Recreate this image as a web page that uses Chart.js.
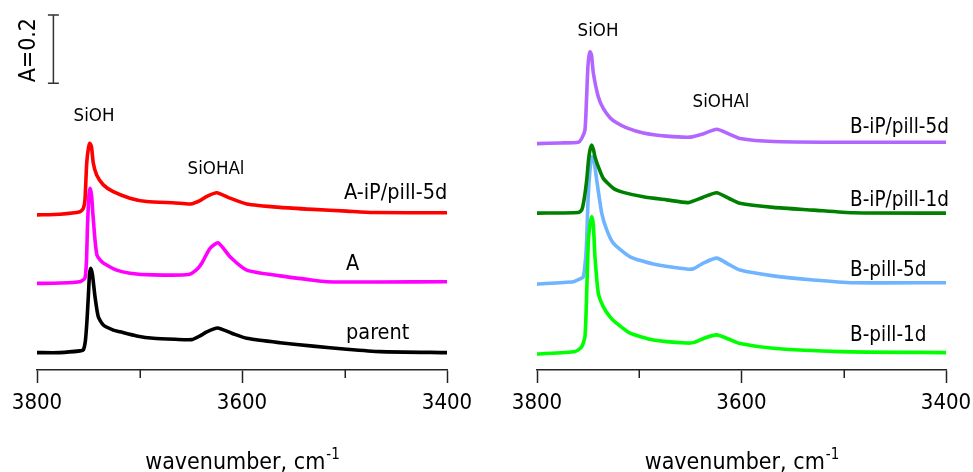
<!DOCTYPE html>
<html><head><meta charset="utf-8">
<script src="https://cdn.jsdelivr.net/npm/chart.js@4.4.1/dist/chart.umd.min.js"></script>
<style>
html,body{margin:0;padding:0;background:#fff;}
#wrap{position:relative;width:973px;height:472px;overflow:hidden;background:#fff;}
canvas{position:absolute;top:0;}
</style></head><body>
<div id="wrap">
<canvas id="leftChart" width="500" height="472" style="left:0px"></canvas>
<canvas id="rightChart" width="473" height="472" style="left:500px"></canvas>
</div>
<script>
// ---------- DATA (wavenumber in cm-1, absorbance incl. vertical offset) ----------
const xTickLabels = [3800, 3600, 3400];
const xMinorTicks = [3700, 3500];
const xAxisTitle = 'wavenumber, cm';
const xAxisTitleSup = '-1';
const peakLabels = ['SiOH', 'SiOHAl'];
const scaleBarText = 'A=0.2';
const scaleBarSize = 0.2;

// Left panel
const leftNames = ['A-iP/pill-5d', 'A', 'parent'];
const wn_AiP5d = [3800,3777.6,3758.0,3754.8,3753.2,3751.5,3749.8,3748.3,3746.8,3745.1,3741.8,3735.3,3725.6,3709.3,3693.0,3665.0,3650.0,3641.0,3634.4,3624.7,3611.7,3595.4,3562.9,3530.7,3497.9,3472.2,3400];
const abs_AiP5d = [0.455,0.457,0.464,0.474,0.499,0.607,0.651,0.665,0.654,0.607,0.572,0.543,0.523,0.504,0.494,0.490,0.487,0.497,0.509,0.520,0.504,0.487,0.477,0.471,0.466,0.462,0.461];

const wn_A = [3800,3777.6,3758.0,3753.2,3751.7,3750.7,3749.3,3748.3,3746.8,3745.4,3743.4,3741.5,3738.5,3735.3,3722.2,3709.3,3686.8,3652.0,3644.0,3639.3,3631.2,3623.1,3611.7,3595.4,3562.9,3535.0,3517.4,3465.4,3400];
const abs_A = [0.254,0.255,0.259,0.270,0.323,0.425,0.513,0.533,0.513,0.455,0.381,0.337,0.323,0.314,0.293,0.284,0.279,0.280,0.295,0.313,0.357,0.373,0.332,0.293,0.276,0.265,0.259,0.258,0.259];

const wn_parent = [3800,3777.6,3758.0,3754.8,3752.7,3751.2,3749.9,3748.8,3747.6,3745.9,3743.4,3740.2,3735.3,3725.6,3719.0,3702.7,3686.5,3665.0,3649.0,3641.0,3634.4,3623.9,3610.0,3595.4,3562.9,3530.7,3497.9,3465.4,3400];
const abs_parent = [0.051,0.051,0.056,0.059,0.088,0.147,0.217,0.279,0.298,0.279,0.215,0.156,0.132,0.117,0.112,0.100,0.093,0.090,0.089,0.100,0.112,0.123,0.108,0.093,0.080,0.070,0.061,0.054,0.051];

// Right panel
const rightNames = ['B-iP/pill-5d', 'B-iP/pill-1d', 'B-pill-5d', 'B-pill-1d'];
const wn_BiP5d = [3800,3777.5,3759.6,3756.3,3753.1,3751.6,3750.1,3748.2,3746.7,3744.9,3740.0,3735.2,3728.6,3722.1,3712.3,3696.0,3673.2,3650.0,3637.0,3624.3,3612.0,3601.5,3568.9,3510.2,3400];
const abs_BiP5d = [0.664,0.666,0.668,0.679,0.704,0.792,0.894,0.933,0.924,0.871,0.801,0.767,0.740,0.725,0.710,0.695,0.686,0.683,0.693,0.706,0.692,0.679,0.670,0.668,0.668];

const wn_BiP1d = [3800,3759.6,3756.3,3754.0,3751.4,3749.6,3748.2,3746.5,3744.7,3743.3,3740.0,3735.2,3725.4,3715.6,3696.0,3673.2,3652.0,3638.0,3624.3,3612.0,3601.5,3568.9,3529.8,3490.7,3400];
const abs_BiP1d = [0.460,0.462,0.469,0.499,0.557,0.616,0.645,0.660,0.645,0.625,0.596,0.562,0.533,0.521,0.508,0.499,0.491,0.506,0.520,0.503,0.489,0.477,0.469,0.461,0.460];

const wn_Bpill5d = [3800,3764.5,3758.0,3754.7,3752.6,3751.4,3750.1,3748.2,3746.5,3744.7,3741.6,3736.7,3731.8,3725.4,3709.0,3686.3,3653.6,3647.0,3637.0,3624.3,3612.0,3601.5,3568.9,3529.8,3490.7,3400];
const abs_Bpill5d = [0.252,0.259,0.267,0.273,0.323,0.381,0.499,0.587,0.625,0.622,0.557,0.460,0.411,0.372,0.332,0.311,0.296,0.297,0.314,0.328,0.309,0.293,0.276,0.264,0.256,0.256];

const wn_Bpill1d = [3800,3762.8,3756.3,3753.1,3751.6,3749.9,3748.2,3746.5,3744.9,3743.3,3740.0,3735.2,3728.6,3722.1,3709.0,3686.3,3653.6,3646.0,3636.0,3624.3,3612.0,3601.5,3568.9,3503.8,3400];
const abs_Bpill1d = [0.047,0.054,0.068,0.098,0.205,0.372,0.425,0.450,0.425,0.332,0.225,0.186,0.156,0.137,0.108,0.088,0.079,0.081,0.094,0.103,0.090,0.078,0.064,0.054,0.051];

// ---------- helpers ----------
const FONT = "'DejaVu Sans Condensed', 'DejaVu Sans', sans-serif";
function pts(wn, ab){ return wn.map((w,i)=>({x:w, y:ab[i]})); }
function ds(label, wn, ab, color){
  return {label, data: pts(wn, ab), borderColor: color, backgroundColor: color,
    borderWidth: 3.6, pointRadius: 0, fill: false, tension: 0.2,
    borderCapStyle: 'round', borderJoinStyle: 'round'};
}

function annotPlugin(cfg){
  return {
    id: 'annot',
    afterDraw(chart){
      const ctx = chart.ctx, xs = chart.scales.x, area = chart.chartArea;
      ctx.save();
      ctx.strokeStyle = '#222'; ctx.lineWidth = 1.5;
      xMinorTicks.forEach(v=>{
        const px = Math.round(xs.getPixelForValue(v)) + 0.25;
        ctx.beginPath(); ctx.moveTo(px, area.bottom); ctx.lineTo(px, area.bottom + 8); ctx.stroke();
      });
      ctx.fillStyle = '#000';
      ctx.textBaseline = 'alphabetic';
      cfg.labels.forEach(l=>{
        ctx.font = l.size + 'px ' + FONT;
        ctx.textAlign = l.align;
        ctx.fillText(l.text, l.x, l.y);
      });
      const cx = (area.left + area.right)/2;
      ctx.font = '23px ' + FONT;
      const w1 = ctx.measureText(xAxisTitle).width;
      ctx.font = '15px ' + FONT;
      const w2 = ctx.measureText(xAxisTitleSup).width;
      const sx = cx - (w1 + w2)/2;
      ctx.textAlign = 'left';
      ctx.font = '23px ' + FONT;
      ctx.fillText(xAxisTitle, sx, 469);
      ctx.font = '15px ' + FONT;
      ctx.fillText(xAxisTitleSup, sx + w1 + 1, 459);
      if (cfg.scaleBar){
        const ys = chart.scales.y;
        const bx = xs.getPixelForValue(cfg.scaleBar.wn);
        const yb = ys.getPixelForValue(cfg.scaleBar.base);
        const yt = ys.getPixelForValue(cfg.scaleBar.base + scaleBarSize);
        ctx.strokeStyle = '#333'; ctx.lineWidth = 1.5;
        ctx.beginPath();
        ctx.moveTo(bx, yb); ctx.lineTo(bx, yt);
        ctx.moveTo(bx-5.5, yb); ctx.lineTo(bx+5.5, yb);
        ctx.moveTo(bx-5.5, yt); ctx.lineTo(bx+5.5, yt);
        ctx.stroke();
        ctx.save();
        ctx.translate(35, (yb+yt)/2 + 1);
        ctx.rotate(-Math.PI/2);
        ctx.font = '23px ' + FONT;
        ctx.textAlign = 'center';
        ctx.textBaseline = 'alphabetic';
        ctx.fillStyle = '#000';
        ctx.fillText(scaleBarText, 0, 0);
        ctx.restore();
      }
      ctx.restore();
    }
  };
}

function makeOptions(padRight){
  return {
    responsive: false,
    devicePixelRatio: 1,
    animation: false,
    layout: {padding: {left: 37, right: padRight, top: 12, bottom: 0}},
    plugins: {legend: {display: false}, title: {display: false}, tooltip: {enabled: false}},
    scales: {
      x: {
        type: 'linear', min: 3400, max: 3800, reverse: true, position: 'bottom',
        afterFit(s){ s.height = 102; s.paddingLeft = 0; s.paddingRight = 0; },
        border: {display: true, color: '#222', width: 1.5},
        grid: {display: true, drawOnChartArea: false, drawTicks: true, tickLength: 13,
               tickWidth: 1.5,
               tickColor: (c)=> (c.tick && xTickLabels.includes(c.tick.value)) ? '#222' : 'rgba(0,0,0,0)'},
        ticks: {stepSize: 100, autoSkip: false, maxRotation: 0, padding: 7, color: '#000',
                font: {size: 22, family: FONT},
                callback: (v)=> xTickLabels.includes(v) ? String(v) : ''}
      },
      y: {type: 'linear', min: 0, max: 1.05, display: false}
    }
  };
}

new Chart(document.getElementById('leftChart'), {
  type: 'line',
  data: {datasets: [
    ds(leftNames[2], wn_parent, abs_parent, '#000000'),
    ds(leftNames[1], wn_A, abs_A, '#FF00FF'),
    ds(leftNames[0], wn_AiP5d, abs_AiP5d, '#FF0000')
  ]},
  options: makeOptions(53),
  plugins: [annotPlugin({
    labels: [
      {text: peakLabels[0], x: 94, y: 121, size: 18.5, align: 'center'},
      {text: peakLabels[1], x: 216, y: 174, size: 18.5, align: 'center'},
      {text: leftNames[0], x: 344, y: 199, size: 21.5, align: 'left'},
      {text: leftNames[1], x: 346, y: 270, size: 21.5, align: 'left'},
      {text: leftNames[2], x: 346, y: 339, size: 21.5, align: 'left'}
    ],
    scaleBar: {wn: 3784, base: 0.841}
  })]
});

new Chart(document.getElementById('rightChart'), {
  type: 'line',
  data: {datasets: [
    ds(rightNames[3], wn_Bpill1d, abs_Bpill1d, '#00FF00'),
    ds(rightNames[1], wn_BiP1d, abs_BiP1d, '#008000'),
    ds(rightNames[2], wn_Bpill5d, abs_Bpill5d, '#6EB4FF'),
    ds(rightNames[0], wn_BiP5d, abs_BiP5d, '#B266FF')
  ]},
  options: makeOptions(27),
  plugins: [annotPlugin({
    labels: [
      {text: peakLabels[0], x: 98, y: 36, size: 18.5, align: 'center'},
      {text: peakLabels[1], x: 221, y: 107, size: 18.5, align: 'center'},
      {text: rightNames[0], x: 350, y: 133, size: 20.5, align: 'left'},
      {text: rightNames[1], x: 350, y: 206, size: 20.5, align: 'left'},
      {text: rightNames[2], x: 350, y: 276, size: 20.5, align: 'left'},
      {text: rightNames[3], x: 350, y: 341, size: 20.5, align: 'left'}
    ],
    scaleBar: null
  })]
});
</script>
</body></html>
